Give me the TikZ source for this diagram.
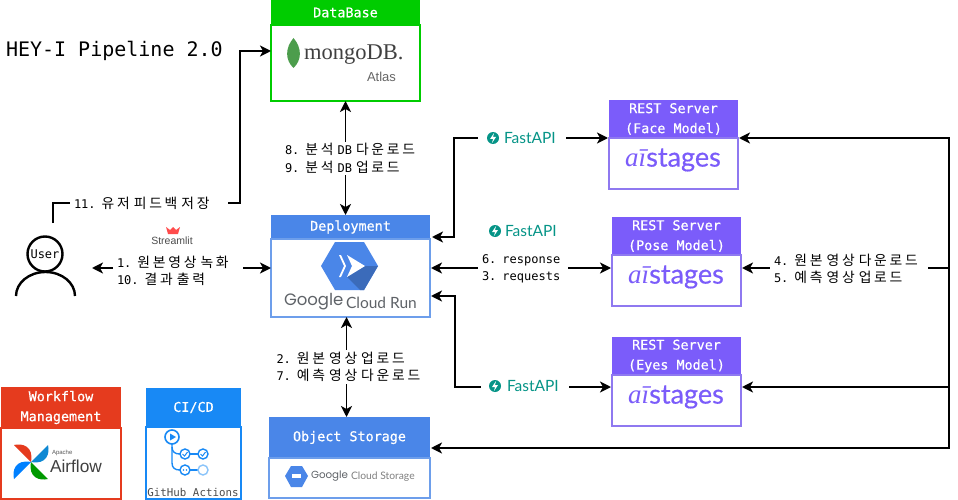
\documentclass[tikz,border=0pt]{standalone}
\usepackage{fontspec}
\setmainfont{DejaVu Sans Mono}
\newfontfamily\kofont[Scale=1.15,LetterSpace=20]{Noto Sans CJK KR}
\newfontfamily\headfont[FakeBold=.6]{DejaVu Sans Mono}
\newfontfamily\lofont{Lato}
\newfontfamily\aifont[FakeBold=.4]{Lato}
\newfontfamily\arfont{Liberation Sans}
\newfontfamily\sefont{Liberation Serif}
\newfontfamily\pofont{Poppins}
\newcommand{\kr}[1]{{\kofont #1}}
\usetikzlibrary{positioning,arrows.meta}
\definecolor{dbgreen}{HTML}{00CC00}
\definecolor{gblue}{HTML}{4A86E8}
\definecolor{gline}{HTML}{6D9EEB}
\definecolor{rest}{HTML}{7B5CFA}
\definecolor{restline}{HTML}{8F79F0}
\definecolor{flowred}{HTML}{E53B1E}
\definecolor{cicd}{HTML}{1889F5}
\definecolor{fast}{HTML}{059487}
\definecolor{logogray}{HTML}{5F6368}
\begin{document}
\begin{tikzpicture} [x=1pt, y=-1pt, >={Stealth[length=11pt,width=11pt,inset=3pt]}, every node/.style={inner sep=0pt, outer sep=0pt, font=\fontsize{12}{17.5}\selectfont}]
\useasboundingbox (0,0) rectangle (958,500);
\tikzstyle{head}=[anchor=north west, text=white, align=center, font=\fontsize{13.4}{20}\headfont]
\tikzstyle{body}=[draw, line width=1.6pt, fill=white, below=0pt of #1]
\tikzstyle{lbl}=[fill=white, align=left, inner xsep=4pt, inner ysep=2pt]
\tikzstyle{link}=[line width=1.9pt]
\tikzstyle{fasttext}=[text=fast, font=\fontsize{15.5}{15.5}\lofont]
\tikzstyle{fastgap}=[fill=white, anchor=west, inner xsep=10pt, inner ysep=2pt]
\tikzstyle{fastdot}=[circle, fill=fast, minimum size=12pt]
\tikzstyle{aistext}=[text=rest, font=\fontsize{27}{27}\aifont]

\node [head, fill=dbgreen, minimum width=149pt, minimum height=25pt] (dbhead) at (271,0) {DataBase};
\node [body=dbhead, draw=dbgreen, minimum width=149pt, minimum height=76pt] (dbbody) {};
\node [head, fill=gblue, minimum width=159pt, minimum height=24pt] (dphead) at (271,215) {Deployment};
\node [body=dphead, draw=gline, minimum width=159pt, minimum height=78pt] (dpbody) {};
\node [head, fill=gblue, minimum width=161pt, minimum height=41pt] (sthead) at (269,417) {Object Storage};
\node [body=sthead, draw=gline, minimum width=161pt, minimum height=40pt] (stbody) {};
\node [head, fill=flowred, minimum width=120pt, minimum height=41pt] (afhead) at (1,387) {Workflow\\Management};
\node [body=afhead, draw=flowred, minimum width=120pt, minimum height=71pt] (afbody) {};
\node [head, fill=cicd, minimum width=95pt, minimum height=39pt] (cihead) at (146,388) {CI/CD};
\node [body=cihead, draw=cicd, minimum width=95pt, minimum height=72pt] (cibody) {};
\node [head, fill=rest, minimum width=129pt, minimum height=38pt] (fchead) at (609,100) {REST Server\\(Face Model)};
\node [body=fchead, draw=restline, minimum width=129pt, minimum height=51pt] (fcbody) {};
\node [head, fill=rest, minimum width=129pt, minimum height=38pt] (pshead) at (612,217) {REST Server\\(Pose Model)};
\node [body=pshead, draw=restline, minimum width=129pt, minimum height=51pt] (psbody) {};
\node [head, fill=rest, minimum width=129pt, minimum height=38pt] (eyhead) at (612,337) {REST Server\\(Eyes Model)};
\node [body=eyhead, draw=restline, minimum width=129pt, minimum height=51pt] (eybody) {};

% free ends of the connectors
\coordinate (usertop) at (53,223);
\coordinate (userside) at (92,268);
\coordinate (dbin) at (271,51);
\coordinate (dpside) at (271,268);
\coordinate (dpface) at (432,237);
\coordinate (dppose) at (431,268);
\coordinate (dpeyes) at (431,296);
\coordinate (faceleft) at (608,138);
\coordinate (faceright) at (739,138);
\coordinate (poseleft) at (611,268);
\coordinate (poseright) at (742,268);
\coordinate (eyesleft) at (611,387);
\coordinate (eyesright) at (742,387);
\coordinate (stside) at (431,448);
\coordinate (busface) at (949,138);
\coordinate (buspose) at (949,268);
\coordinate (buseyes) at (949,387);
\coordinate (busst) at (949,448);

\draw [->, link] (usertop) |- (240,203) |- (dbin);
\draw [<->, link] (dbbody.south) -- (dbbody.south |- dphead.north);
\draw [<->, link] ([xshift=-4pt]dpbody.south) -- ([xshift=-4pt]dpbody.south |- sthead.north);
\draw [<->, link] (userside) -- (dpside);
\draw [<->, link] (dpface) -| (454,138) -- (faceleft);
\draw [<->, link] (dppose) -- (poseleft);
\draw [<->, link] (dpeyes) -| (455,387) -- (eyesleft);
\draw [<->, link] (faceright) -- (busface) -- (busst) -- (stside);
\draw [->, link] (buspose) -- (poseright);
\draw [->, link] (buseyes) -- (eyesright);

\node [anchor=west, font=\fontsize{20}{20}\selectfont] (title) at (6,51) {HEY-I Pipeline 2.0};

\node [lbl, text width=150pt] (savelbl) at (149,203) {11. \kr{유저} \kr{피드백} \kr{저장}};
\node [lbl, text width=134pt] (dblbl) at (352,158.5) {8. \kr{분석} DB \kr{다운로드}\\9. \kr{분석} DB \kr{업로드}};
\node [lbl, text width=147pt] (uplbl) at (350,367) {2. \kr{원본} \kr{영상} \kr{업로드}\\7. \kr{예측} \kr{영상} \kr{다운로드}};
\node [lbl, text width=122pt] (reclbl) at (178,271) {1. \kr{원본영상} \kr{녹화}\\10. \kr{결과} \kr{출력}};
\node [lbl, text width=82pt] (reqlbl) at (523,269) {6. response\\3. requests};
\node [lbl, text width=150pt] (getlbl) at (849,269) {4. \kr{원본} \kr{영상} \kr{다운로드}\\5. \kr{예측} \kr{영상} \kr{업로드}};

% streamlit
\fill [red!70!white] (166,227) -- (170,230) -- (173,227) -- (176,230) -- (180,227) -- (178,234) -- (168,234) -- cycle;
\node [text=black!70, font=\fontsize{10.5}{10.5}\arfont] (streamlit) at (172,241) {Streamlit};

% user
\draw [line width=2.4pt] (16,296) arc [start angle=180, end angle=0, x radius=29.5pt, y radius=24pt];
\node [circle, draw, line width=2.4pt, fill=white, minimum size=35pt] (userhead) at (45,254) {User};

% mongodb
\fill [green!45!black!70!white] (293.5,38) .. controls (285,48) and (285,60) .. (293.5,68) .. controls (302,60) and (302,48) .. (293.5,38);
\node [anchor=west, text=black!75, font=\fontsize{22.5}{22.5}\sefont] (mongo) at (304,55) {mongoDB.};
\node [anchor=west, text=black!60, font=\fontsize{13}{13}\arfont] (atlas) at (367,77) {Atlas};

% cloud run
\fill [gblue] (321,266) -- (335,242) -- (364,242) -- (378,266) -- (364,290) -- (335,290) -- cycle;
\fill [gblue!80!black] (347,277) -- (365,266) -- (378,266) -- (364,290) -- (360,290) -- cycle;
\fill [white] (339,255) -- (344,266) -- (339,277) -- (341,277) -- (346,266) -- (341,255) -- cycle;
\fill [white] (347,255) -- (365,266) -- (347,277) -- (352,266) -- cycle;
\node [anchor=west, text=logogray, font=\fontsize{16.5}{16.5}\pofont] (crgoogle) at (284,302) {Google};
\node [anchor=west, text=logogray, font=\fontsize{15.5}{15.5}\lofont] (crname) at (346,303) {Cloud Run};

% cloud storage
\fill [gblue] (285,476) -- (291,466) -- (302,466) -- (308,476) -- (302,487) -- (291,487) -- cycle;
\fill [white] (292,474) rectangle (301,478);
\node [anchor=west, text=logogray, font=\fontsize{10.3}{10.3}\pofont] (stgoogle) at (311,476) {Google};
\node [anchor=west, text=black!50, font=\fontsize{10.3}{10.3}\lofont] (stname) at (351,477) {Cloud Storage};

% airflow
\fill [flowred] (31,462) -- (14,445) .. controls (22,443) and (34,446) .. (31,462);
\fill [cyan!70!blue] (31,462) -- (48,445) .. controls (50,453) and (47,465) .. (31,462);
\fill [green!60!black] (31,462) -- (48,479) .. controls (40,481) and (28,478) .. (31,462);
\fill [blue!50!cyan] (31,462) -- (14,479) .. controls (12,471) and (15,459) .. (31,462);
\node [anchor=west, text=black!65, font=\fontsize{6}{6}\arfont] (apache) at (52,453) {Apache};
\node [anchor=west, text=black!75, font=\fontsize{17.3}{17.3}\arfont] (airflow) at (50,466) {Airflow};

% github actions
\draw [cicd, line width=1.6pt] (172,437) circle (7pt);
\fill [cicd] (170,433.5) -- (176,437) -- (170,440.5) -- cycle;
\draw [cicd, line width=1.4pt] (172,444) -- (172,463) .. controls (172,468) and (175,470) .. (180,470);
\draw [cicd, line width=1.4pt] (172,447) .. controls (172,452) and (175,454) .. (180,454);
\draw [cicd, line width=1.4pt] (190,454) -- (198,454) (190,470) -- (198,470);
\draw [cicd, line width=1.4pt] (185,454) circle (5pt) (203,454) circle (5pt) (185,470) circle (5pt);
\draw [cicd!50!white, line width=1.4pt] (203,470) circle (5pt);
\draw [cicd, line width=1pt] (182.5,454) -- (184.5,456) -- (187.5,452) (200.5,454) -- (202.5,456) -- (205.5,452);
\fill [cicd] (183.5,470) circle (.8pt) (186.5,470) circle (.8pt);
\node [text=black!70, font=\fontsize{10.8}{10.8}\selectfont] (ghname) at (193,492) {GitHub Actions};

% fastapi marks
\node [fastgap, fasttext] (fcfast) at (478,138) {\hspace{16pt}FastAPI};
\node [fasttext, anchor=west] (psfast) at (505,231) {FastAPI};
\node [fastgap, fasttext] (eyfast) at (481,386) {\hspace{16pt}FastAPI};
\node [fastdot] (fcdot) at (493,138) {};
\node [fastdot] (psdot) at (495,231) {};
\node [fastdot] (eydot) at (495,386) {};
\fill [white] (fcdot) +(1,-5) -- +(-3,1) -- +(0,1) -- +(-1,5) -- +(3,-1) -- +(0,-1) -- cycle;
\fill [white] (psdot) +(1,-5) -- +(-3,1) -- +(0,1) -- +(-1,5) -- +(3,-1) -- +(0,-1) -- cycle;
\fill [white] (eydot) +(1,-5) -- +(-3,1) -- +(0,1) -- +(-1,5) -- +(3,-1) -- +(0,-1) -- cycle;

% aistages
\node [aistext] (fcai) at (673,160) {{\sefont\itshape aī}stages};
\node [aistext] (psai) at (676,277) {{\sefont\itshape aī}stages};
\node [aistext] (eyai) at (676,397) {{\sefont\itshape aī}stages};
\end{tikzpicture}
\end{document}
